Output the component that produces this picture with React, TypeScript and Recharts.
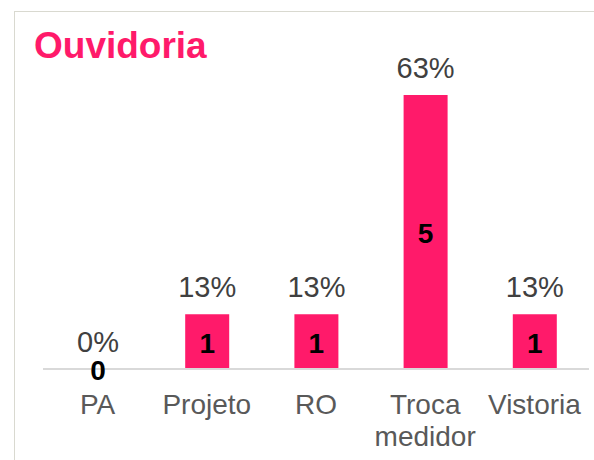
import { BarChart, Bar, XAxis, YAxis, LabelList } from 'recharts'

const categorias = ['PA', 'Projeto', 'RO', 'Troca medidor', 'Vistoria']
const quantidades = [0, 1, 1, 5, 1]
const percentuais = ['0%', '13%', '13%', '63%', '13%']

const dados = categorias.map((name, i) => ({ name, value: quantidades[i], pct: percentuais[i] }))

const ROSA = '#FF1A6A'
const FONTE = '"Liberation Sans", Arial, sans-serif'

function Tick({ x, y, payload }: any) {
  const linhas = String(payload.value).split(' ')
  return (
    <text x={x} y={y} textAnchor="middle" fill="#595959" fontSize={28} fontFamily={FONTE}>
      {linhas.map((l, i) => (
        <tspan key={i} x={x} dy={i === 0 ? 37 : 32}>{l}</tspan>
      ))}
    </text>
  )
}

function Pct(props: any) {
  const { x, y, width, value } = props
  return (
    <text x={x + width / 2} y={y - 17} textAnchor="middle" fill="#404040" fontSize={29} fontFamily={FONTE}>
      {value}
    </text>
  )
}

function Qtd(props: any) {
  const { x, y, width, height, value } = props
  return (
    <text x={x + width / 2} y={y + height / 2 + 1} dy="0.36em" textAnchor="middle" fill="#000" fontSize={28} fontWeight="bold" fontFamily={FONTE}>
      {value}
    </text>
  )
}

export default function App() {
  return (
    <div style={{ position: 'fixed', left: 0, top: 0, width: 594, height: 460, background: '#fff', overflow: 'hidden' }}>
      <div style={{ position: 'absolute', left: 14, top: 11, width: 600, height: 470, borderLeft: '1px solid #D9D9D0', borderTop: '1px solid #D9D9D0' }} />
      <div style={{ position: 'absolute', left: 34, top: 25, color: ROSA, fontSize: 37, fontWeight: 'bold', fontFamily: FONTE, lineHeight: 'normal' }}>
        Ouvidoria
      </div>
      <div style={{ position: 'absolute', left: 0, top: 0 }}>
        <BarChart width={594} height={460} data={dados} margin={{ top: 95, right: 5, left: 43, bottom: 31 }}>
          <XAxis dataKey="name" height={60} tickLine={false} axisLine={{ stroke: '#D9D9D9', strokeWidth: 2 }} tick={<Tick />} interval={0} />
          <YAxis hide domain={[0, 5]} />
          <Bar dataKey="value" fill={ROSA} barSize={44} minPointSize={0.01} isAnimationActive={false}>
            <LabelList dataKey="pct" content={<Pct />} />
            <LabelList dataKey="value" content={<Qtd />} />
          </Bar>
        </BarChart>
      </div>
    </div>
  )
}
